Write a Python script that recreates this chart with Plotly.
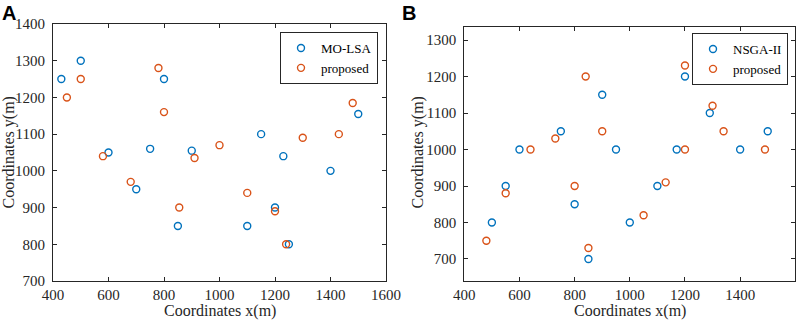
import plotly.graph_objects as go

# Panel A data
a_molsa_x = [430, 500, 800, 600, 750, 900, 1150, 1230, 1500, 1400, 700, 850, 1100, 1200, 1250]
a_molsa_y = [1250, 1300, 1250, 1050, 1060, 1055, 1100, 1040, 1155, 1000, 950, 850, 850, 900, 800]
a_prop_x = [450, 500, 780, 800, 580, 910, 1000, 1300, 1430, 1480, 680, 855, 1100, 1200, 1240]
a_prop_y = [1200, 1250, 1280, 1160, 1040, 1035, 1070, 1090, 1100, 1185, 970, 900, 940, 890, 800]

# Panel B data
b_nsga_x = [600, 750, 900, 950, 1170, 1200, 1290, 1400, 1500, 550, 500, 800, 850, 1000, 1100]
b_nsga_y = [1000, 1050, 1150, 1000, 1000, 1200, 1100, 1000, 1050, 900, 800, 850, 700, 800, 900]
b_prop_x = [640, 730, 840, 900, 1200, 1200, 1300, 1340, 1490, 550, 480, 800, 850, 1050, 1130]
b_prop_y = [1000, 1030, 1200, 1050, 1230, 1000, 1120, 1050, 1000, 880, 750, 900, 730, 820, 910]

x_ticks = [400, 600, 800, 1000, 1200, 1400, 1600]
a_y_ticks = [700, 800, 900, 1000, 1100, 1200, 1300, 1400]
b_y_ticks = [700, 800, 900, 1000, 1100, 1200, 1300]

BLUE = "#0072BD"
ORANGE = "#D95319"
W, H = 809, 321
SERIF = "Liberation Serif"
AX = "#262626"


def mk(x, y, name, color, xa, ya, legend):
    return go.Scatter(
        x=x, y=y, mode="markers", name=name, xaxis=xa, yaxis=ya, legend=legend,
        marker=dict(symbol="circle-open", size=7, color=color, line=dict(width=1.4, color=color)),
    )


fig = go.Figure()
fig.add_trace(mk(a_molsa_x, a_molsa_y, "MO-LSA", BLUE, "x", "y", "legend"))
fig.add_trace(mk(a_prop_x, a_prop_y, "proposed", ORANGE, "x", "y", "legend"))
fig.add_trace(mk(b_nsga_x, b_nsga_y, "NSGA-II", BLUE, "x2", "y2", "legend2"))
fig.add_trace(mk(b_prop_x, b_prop_y, "proposed", ORANGE, "x2", "y2", "legend2"))

axis_common = dict(
    showline=True, linecolor=AX, linewidth=1, mirror="allticks",
    ticks="inside", ticklen=4, tickcolor=AX, tickwidth=1,
    showgrid=False, zeroline=False, automargin=False,
    tickfont=dict(family=SERIF, size=15, color=AX),
)

ax_l, ax_r = 53 / W, 386 / W
bx_l, bx_r = 464.3 / W, 795.3 / W
y_bot = 1 - 281 / H
a_top = 1 - 24 / H
b_top = 1 - 26.7 / H

fig.update_layout(
    width=W, height=H,
    margin=dict(l=0, r=0, t=0, b=0, autoexpand=False),
    paper_bgcolor="white", plot_bgcolor="white",
    showlegend=True,
    xaxis=dict(domain=[ax_l, ax_r], range=[400, 1600], tickvals=x_ticks, anchor="y", ticklabelstandoff=0, **axis_common),
    yaxis=dict(domain=[y_bot, a_top], range=[700, 1400], tickvals=a_y_ticks, anchor="x", ticklabelstandoff=4, **axis_common),
    xaxis2=dict(domain=[bx_l, bx_r], range=[400, 1600], tickvals=x_ticks, anchor="y2", ticklabelstandoff=0, **axis_common),
    yaxis2=dict(domain=[y_bot, b_top], range=[639.7, 1336.5], tickvals=b_y_ticks, anchor="x2", ticklabelstandoff=4, **axis_common),
    legend=dict(
        x=378 / W, y=1 - 32 / H, xanchor="right", yanchor="top",
        bgcolor="white", bordercolor=AX, borderwidth=1,
        font=dict(family=SERIF, size=13, color="black"),
        tracegroupgap=0, itemwidth=30,
    ),
    legend2=dict(
        x=788 / W, y=1 - 33 / H, xanchor="right", yanchor="top",
        bgcolor="white", bordercolor=AX, borderwidth=1,
        font=dict(family=SERIF, size=13, color="black"),
        tracegroupgap=0, itemwidth=30,
    ),
)

annos = [
    dict(text="<b>A</b>", x=0 / W, y=1 - 0 / H, xanchor="left", yanchor="top",
         font=dict(family="Liberation Sans", size=20, color="black")),
    dict(text="<b>B</b>", x=400 / W, y=1 - 0 / H, xanchor="left", yanchor="top",
         font=dict(family="Liberation Sans", size=20, color="black")),
    dict(text="Coordinates x(m)", x=(53 + 386) / 2 / W, y=0, xanchor="center", yanchor="bottom",
         font=dict(family=SERIF, size=16, color=AX), borderpad=0),
    dict(text="Coordinates x(m)", x=(464.3 + 795.3) / 2 / W, y=0, xanchor="center", yanchor="bottom",
         font=dict(family=SERIF, size=16, color=AX), borderpad=0),
    dict(text="Coordinates y(m)", x=8 / W, y=1 - 152.5 / H, xanchor="center", yanchor="middle", textangle=-90,
         font=dict(family=SERIF, size=16, color=AX)),
    dict(text="Coordinates y(m)", x=417 / W, y=1 - 152.5 / H, xanchor="center", yanchor="middle", textangle=-90,
         font=dict(family=SERIF, size=16, color=AX)),
]
for a in annos:
    fig.add_annotation(xref="paper", yref="paper", showarrow=False, **a)

fig.write_html(
    "out.html",
    config={"displayModeBar": False},
    post_script="document.body.style.margin='0';document.body.style.overflow='hidden';",
)
